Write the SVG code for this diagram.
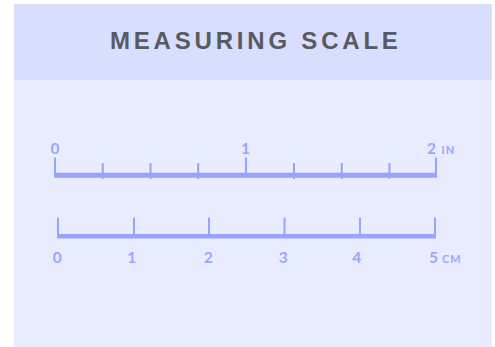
<svg xmlns="http://www.w3.org/2000/svg" width="495" height="347" viewBox="0 0 495 347">
<style>
.bar{stroke:#97a4fc;fill:none}
.tk{stroke:#97a4fc;stroke-width:2;fill:none}
.num{font-family:Lato,"Liberation Sans",sans-serif;font-weight:700;font-size:15.5px;fill:#9aa7f8;text-anchor:middle}
.unit{font-family:Lato,"Liberation Sans",sans-serif;font-weight:700;font-size:11px;fill:#9aa7f8;letter-spacing:1px}
.title{font-family:"Liberation Sans",Arial,sans-serif;font-weight:700;font-size:24px;fill:#575b61;letter-spacing:3.8px}
</style>
<rect width="495" height="347" fill="#ffffff"/>
<rect id="header" x="14" y="4" width="478" height="76" fill="#d8defd"/>
<rect id="body" x="14" y="80" width="478" height="267" fill="#e9ecfe"/>
<text class="title" x="110" y="49">MEASURING SCALE</text>
<g id="inch-scale">
<line class="bar" x1="54" y1="175.3" x2="437" y2="175.3" stroke-width="5"/>
<path class="tk" d="M55,157.5V175M246,157.5V175M436,157.5V175"/>
<path class="tk" d="M102.75,163V179M150.5,163V179M198.25,163V179M294,163V179M341.75,163V179M389.5,163V179"/>
<text class="num" x="55" y="154">0</text>
<text class="num" x="245.5" y="154">1</text>
<text class="num" x="431.5" y="154">2</text>
<text class="unit" x="441.5" y="154">IN</text>
</g>
<g id="cm-scale">
<line class="bar" x1="57" y1="236.2" x2="436" y2="236.2" stroke-width="4.5"/>
<path class="tk" d="M58,217.5V236M134,217.5V236M209,217.5V236M284.5,217.5V236M360,217.5V236M435,217.5V236"/>
<text class="num" x="57.3" y="262.5">0</text>
<text class="num" x="131.7" y="262.5">1</text>
<text class="num" x="208.3" y="262.5">2</text>
<text class="num" x="283.3" y="262.5">3</text>
<text class="num" x="356.7" y="262.5">4</text>
<text class="num" x="433.6" y="262.5">5</text>
<text class="unit" x="442" y="262.5">CM</text>
</g>
</svg>
